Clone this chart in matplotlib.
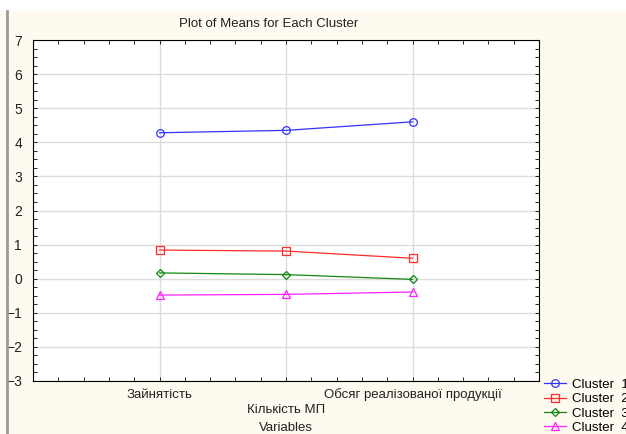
import matplotlib
matplotlib.use("Agg")
import matplotlib.pyplot as plt
from matplotlib.ticker import MultipleLocator
from matplotlib.lines import Line2D

plt.rcParams['font.family'] = ['Liberation Sans', 'DejaVu Sans']

variables = ["Зайнятість", "Кількість МП", "Обсяг реалізованої продукції"]
cluster_names = ["Cluster  1", "Cluster  2", "Cluster  3", "Cluster  4"]
cluster1 = [4.28, 4.35, 4.60]
cluster2 = [0.84, 0.81, 0.60]
cluster3 = [0.17, 0.12, -0.02]
cluster4 = [-0.48, -0.46, -0.39]
y_ticks = [-3, -2, -1, 0, 1, 2, 3, 4, 5, 6, 7]

series = [cluster1, cluster2, cluster3, cluster4]
colors = ["#3333ff", "#ff2a2a", "#118811", "#ff22ff"]
markers = ["o", "s", "D", "^"]
msizes = [5.5, 6, 4.5, 6]

W, H = 626, 434
fig = plt.figure(figsize=(W / 100, H / 100), dpi=100)
bg = "#fefaef"
fig.patch.set_facecolor(bg)

# white band at top
fig.add_artist(plt.Rectangle((0, 1 - 11 / H), 1, 11 / H, transform=fig.transFigure,
                             facecolor="white", edgecolor="none", zorder=0))
# gray left border line
fig.add_artist(Line2D([7 / W, 7 / W], [0, 1 - 11 / H], transform=fig.transFigure,
                      color="#9a9a9a", lw=2.0))

left, right, top, bottom = 33, 539, 40, 381
ax = fig.add_axes([left / W, 1 - bottom / H, (right - left) / W, (bottom - top) / H])
ax.set_facecolor("white")

x = list(range(1, len(variables) + 1))
for vals, c, m, ms in zip(series, colors, markers, msizes):
    ax.plot(x, vals, color=c, lw=0.9, marker=m, ms=ms, mfc="none", mec=c, mew=0.9)

ax.set_xlim(0, 4)
ax.set_ylim(-3, 7)
ax.set_yticks(y_ticks)
ax.yaxis.set_minor_locator(MultipleLocator(0.25))
ax.set_xticks(x)
ax.set_xticklabels([])
ax.xaxis.set_minor_locator(MultipleLocator(0.2))
ax.grid(True, which="major", color="#dcdcdc", lw=1.0)
ax.set_axisbelow(True)
ax.tick_params(which="both", direction="in", top=True, right=True, length=3,
               width=0.6, labelsize=10, colors="black")
ax.tick_params(axis="y", which="major", length=3, pad=8)
ax.tick_params(axis="x", which="major", length=3)
for lbl in ax.get_yticklabels():
    lbl.set_color("#222222")

# staggered category labels
for i, lab in enumerate(variables):
    yy = 395 if i % 2 == 0 else 410
    ax.text(x[i], -(yy - bottom) / (bottom - top), lab, transform=ax.get_xaxis_transform(),
            ha="center", va="center", fontsize=9.5, color="#222222")

fig.text(286 / W, 1 - 428 / H, "Variables", ha="center", va="center", fontsize=9.5, color="#222222")
fig.text(269 / W, 1 - 24 / H, "Plot of Means for Each Cluster", ha="center", va="center",
         fontsize=9.5, color="#222222")

for s in ax.spines.values():
    s.set_color("black")
    s.set_linewidth(0.8)

handles = [Line2D([0], [0], color=c, lw=0.9, marker=m, ms=ms, mfc="none", mec=c, mew=0.9)
           for c, m, ms in zip(colors, markers, msizes)]
fig.legend(handles, cluster_names, loc="upper left", bbox_to_anchor=(541 / W, 1 - 376 / H),
           frameon=False, fontsize=9.5, handlelength=1.7, handletextpad=0.45,
           labelspacing=0.16, borderaxespad=0, borderpad=0.2)

fig.savefig("out.png", dpi=100, facecolor=fig.get_facecolor())
